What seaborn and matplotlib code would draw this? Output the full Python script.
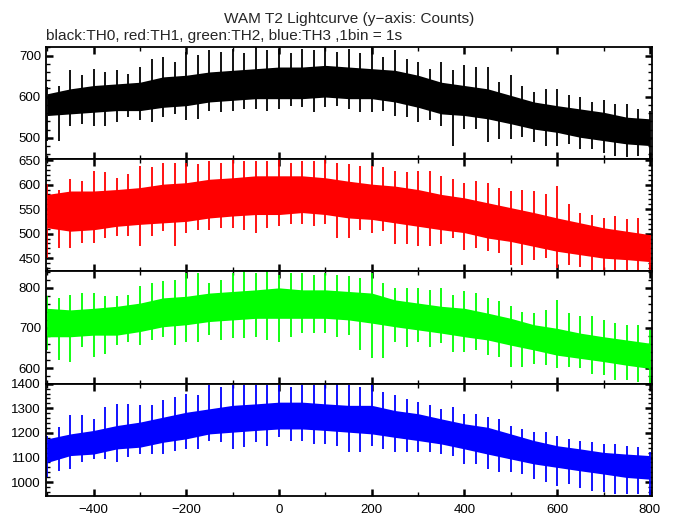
import matplotlib
matplotlib.use("Agg")
import matplotlib.pyplot as plt
from matplotlib.ticker import MultipleLocator
import pandas as pd
import seaborn as sns

# time axis (s): dense core read every 50 s, single spikes every 25 s
time_s = list(range(-500, 801, 50))
spike_t = list(range(-500, 801, 25))

# TH0 (black)
th0_core_lo = [554, 558, 562, 566, 566, 574, 578, 587, 591, 595, 595, 595, 599, 595, 595,
               587, 574, 558, 554, 546, 534, 521, 513, 501, 493, 485, 481]
th0_core_hi = [607, 619, 627, 631, 635, 648, 652, 660, 664, 668, 672, 672, 676, 672, 668,
               664, 652, 635, 627, 619, 603, 587, 578, 570, 562, 550, 546]
th0_peak_lo = [493, 493, 529, 534, 529, 529, 538, 550, 542, 538, 550, 558, 542, 546, 566, 562,
               566, 570, 570, 566, 570, 578, 574, 562, 574, 578, 570, 562, 562, 566, 554, 550,
               538, 542, 529, 481, 521, 521, 489, 497, 497, 501, 489, 481, 481, 485, 472, 472,
               464, 456, 452, 456, 448]
th0_peak_hi = [623, 627, 664, 652, 668, 660, 664, 656, 672, 692, 697, 684, 709, 701, 713, 709,
               717, 705, 721, 713, 717, 705, 717, 713, 721, 709, 717, 705, 721, 697, 713, 692,
               684, 668, 684, 664, 676, 672, 672, 635, 652, 627, 611, 619, 619, 603, 599, 587,
               591, 582, 582, 570, 566]

# TH1 (red)
th1_core_lo = [512, 505, 508, 515, 519, 522, 525, 532, 536, 539, 539, 543, 539, 532, 529,
               522, 515, 508, 502, 491, 484, 474, 464, 457, 450, 447, 443]
th1_core_hi = [580, 587, 587, 590, 594, 601, 604, 611, 614, 618, 618, 618, 614, 607, 601,
               597, 590, 580, 573, 563, 553, 543, 532, 522, 512, 505, 498]
th1_peak_lo = [450, 471, 471, 481, 481, 491, 495, 495, 474, 495, 505, 474, 502, 508, 508, 512,
               512, 508, 502, 512, 515, 519, 519, 515, 519, 491, 491, 508, 502, 505, 478, 478,
               474, 474, 478, 491, 467, 471, 464, 460, 437, 437, 447, 450, 430, 437, 433, 423,
               426, 426, 426, 423, 423]
th1_peak_hi = [601, 590, 611, 607, 628, 625, 614, 621, 638, 635, 645, 645, 645, 642, 649, 645,
               650, 649, 649, 649, 652, 645, 649, 649, 652, 645, 642, 638, 638, 635, 628, 625,
               628, 628, 618, 611, 604, 607, 604, 594, 587, 590, 587, 580, 597, 560, 543, 539,
               532, 536, 529, 532, 498]

# TH2 (green)
th2_core_lo = [678, 678, 682, 682, 691, 703, 708, 716, 720, 724, 724, 724, 724, 720, 712,
               703, 695, 687, 678, 670, 657, 645, 632, 624, 616, 607, 599]
th2_core_hi = [749, 745, 749, 754, 762, 775, 779, 787, 791, 795, 800, 795, 795, 791, 787,
               770, 762, 754, 749, 737, 724, 708, 699, 687, 678, 670, 662]
th2_peak_lo = [645, 620, 616, 653, 628, 636, 657, 666, 657, 670, 678, 657, 666, 666, 682, 670,
               674, 674, 678, 670, 666, 678, 687, 687, 687, 678, 682, 645, 624, 624, 666, 653,
               666, 653, 662, 641, 641, 645, 632, 628, 603, 603, 611, 607, 599, 603, 599, 586,
               582, 570, 570, 565, 561]
th2_peak_hi = [779, 775, 783, 787, 787, 779, 779, 783, 804, 812, 816, 820, 837, 837, 812, 820,
               837, 841, 837, 841, 833, 837, 837, 833, 837, 833, 829, 825, 837, 812, 800, 800,
               800, 795, 800, 783, 791, 787, 775, 766, 754, 741, 737, 745, 770, 737, 729, 729,
               720, 712, 708, 708, 695]

# TH3 (blue)
th3_core_lo = [1080, 1108, 1114, 1135, 1142, 1162, 1176, 1196, 1203, 1210, 1216, 1216, 1210,
               1203, 1196, 1182, 1169, 1155, 1135, 1114, 1094, 1074, 1060, 1046, 1033, 1019, 1012]
th3_core_hi = [1176, 1196, 1210, 1230, 1244, 1264, 1284, 1298, 1312, 1318, 1325, 1325, 1318,
               1312, 1312, 1291, 1278, 1257, 1237, 1223, 1196, 1169, 1148, 1135, 1121, 1114, 1108]
th3_peak_lo = [1019, 1046, 1053, 1080, 1094, 1094, 1080, 1101, 1114, 1114, 1114, 1128, 1135,
               1135, 1169, 1162, 1135, 1142, 1162, 1148, 1182, 1169, 1169, 1155, 1155, 1148,
               1121, 1121, 1148, 1135, 1121, 1121, 1121, 1121, 1114, 1108, 1074, 1074, 1053,
               1040, 1040, 1033, 1012, 999, 985, 992, 978, 965, 958, 951, 951, 951, 944]
th3_peak_hi = [1189, 1223, 1271, 1271, 1257, 1305, 1318, 1318, 1312, 1312, 1332, 1346, 1359,
               1352, 1393, 1386, 1393, 1393, 1393, 1393, 1393, 1386, 1393, 1393, 1400, 1400,
               1393, 1386, 1400, 1366, 1352, 1339, 1325, 1312, 1298, 1305, 1278, 1278, 1264,
               1257, 1230, 1216, 1203, 1203, 1189, 1176, 1169, 1162, 1155, 1155, 1148, 1142, 1121]

panels = [
    ("TH0", "black", th0_core_lo, th0_core_hi, th0_peak_lo, th0_peak_hi, (448, 721), 100, 20),
    ("TH1", "red", th1_core_lo, th1_core_hi, th1_peak_lo, th1_peak_hi, (423, 652), 50, 10),
    ("TH2", "#00ff00", th2_core_lo, th2_core_hi, th2_peak_lo, th2_peak_hi, (561, 841), 100, 20),
    ("TH3", "blue", th3_core_lo, th3_core_hi, th3_peak_lo, th3_peak_hi, (944, 1400), 100, 20),
]

sns.set_theme(style="ticks")
plt.rcParams['font.family'] = ['Liberation Sans', 'DejaVu Sans']

fig, axes = plt.subplots(4, 1, figsize=(6.74, 5.15), dpi=100, sharex=True)
fig.subplots_adjust(left=0.068, right=0.967, top=0.909, bottom=0.037, hspace=0)

for ax, (name, color, core_lo, core_hi, peak_lo, peak_hi, ylim, major, minor) in zip(axes, panels):
    core = pd.DataFrame({"t": time_s, "lo": core_lo, "hi": core_hi})
    spikes = pd.DataFrame({"t": spike_t, "lo": peak_lo, "hi": peak_hi})
    ax.fill_between(core["t"], core["lo"], core["hi"], color=color, lw=0)
    ax.vlines(spikes["t"], spikes["lo"], spikes["hi"], color=color, lw=1.3)
    ax.set_ylim(*ylim)
    ax.set_xlim(-503, 804)
    ax.yaxis.set_major_locator(MultipleLocator(major))
    ax.yaxis.set_minor_locator(MultipleLocator(minor))
    ax.xaxis.set_major_locator(MultipleLocator(200))
    ax.xaxis.set_minor_locator(MultipleLocator(100))
    ax.tick_params(which="both", direction="in", top=True, right=True, labelsize=9.5,
                   colors="black")
    ax.tick_params(which="major", length=5, width=1.8)
    ax.tick_params(which="minor", length=3, width=1.0)
    ax.tick_params(axis="x", pad=6)
    for sp in ax.spines.values():
        sp.set_linewidth(1.3)
        sp.set_color("black")
    ax.grid(False)

fig.text(0.518, 0.964, "WAM T2 Lightcurve (y\u2212axis: Counts)", ha="center", va="center", fontsize=11.1)
fig.text(0.068, 0.931, "black:TH0, red:TH1, green:TH2, blue:TH3 ,1bin = 1s", ha="left", va="center",
         fontsize=11.1)

fig.savefig("out.png", dpi=100)
